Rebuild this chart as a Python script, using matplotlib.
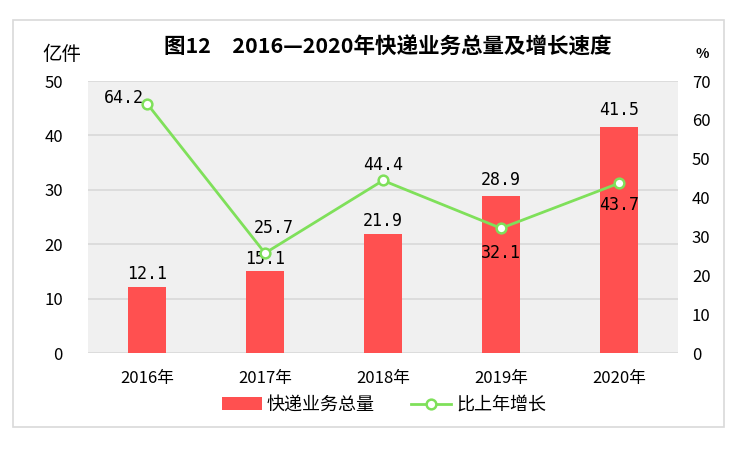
import matplotlib
matplotlib.use("Agg")
import matplotlib.pyplot as plt
from matplotlib.patches import Rectangle
import numpy as np

plt.rcParams['font.family'] = ['Noto Sans CJK SC', 'DejaVu Sans']

years = ["2016年", "2017年", "2018年", "2019年", "2020年"]
volume = [12.1, 15.1, 21.9, 28.9, 41.5]
growth = [64.2, 25.7, 44.4, 32.1, 43.7]
left_ticks = [0, 10, 20, 30, 40, 50]
right_ticks = [0, 10, 20, 30, 40, 50, 60, 70]

bar_color = "#FF5050"
line_color = "#7FE05A"

fig = plt.figure(figsize=(7.5, 4.49), dpi=100)
fig.patches.append(Rectangle((13/750, 1-427/449), 711/750, 407/449, transform=fig.transFigure,
                             fill=False, edgecolor="#d9d9d9", linewidth=1.2))

ax = fig.add_axes([88/750, 1-353/449, 590/750, 272/449])
ax.set_facecolor("#F0F0F0")
x = np.arange(len(years))
bars = ax.bar(x, volume, width=0.32, color=bar_color, zorder=2, label="快递业务总量")
ax.set_ylim(0, 50)
ax.set_xlim(-0.5, 4.5)
ax.set_yticks(left_ticks)
ax.yaxis.grid(True, color="#d9d9d9", linewidth=1.2, zorder=0)
ax.set_axisbelow(True)
for s in ax.spines.values():
    s.set_visible(False)
ax.tick_params(axis='both', length=0, labelsize=12)
ax.tick_params(axis='y', pad=18)
ax.set_xticks(x)
ax.set_xticklabels(years, fontsize=12)
ax.tick_params(axis='x', pad=12)

mono = ['DejaVu Sans Mono']
bar_offsets = [3, 2, 3, 5, 6]
for xi, v, dy in zip(x, volume, bar_offsets):
    ax.annotate(f"{v}", (xi, v), xytext=(0, dy), textcoords="offset points",
                ha="center", va="bottom", fontsize=12, family=mono, zorder=3)

ax2 = ax.twinx()
ax2.set_ylim(0, 70)
ax2.set_yticks(right_ticks)
for s in ax2.spines.values():
    s.set_visible(False)
ax2.tick_params(axis='y', length=0, labelsize=12, pad=10)
line, = ax2.plot(x, growth, color=line_color, linewidth=2, marker='o', markersize=7,
                 markerfacecolor="white", markeredgecolor=line_color, markeredgewidth=1.8,
                 zorder=4, label="比上年增长")

offsets = [(-17, 4), (6, 18), (0, 11), (0, -18), (0, -16)]
for xi, v, (dx, dy) in zip(x, growth, offsets):
    ax2.annotate(f"{v}", (xi, v), xytext=(dx, dy), textcoords="offset points",
                 ha="center", va="center", fontsize=12, family=mono, zorder=6)

fig.text(388/750, 1-47/449, "图12　2016—2020年快递业务总量及增长速度", ha="center", va="center",
         fontsize=15.5, fontweight="bold")
fig.text(62/750, 1-55/449, "亿件", ha="center", va="center", fontsize=14)
fig.text(702/750, 1-54/449, "%", ha="center", va="center", fontsize=10, fontweight="bold")

handles = [bars, line]
fig.legend(handles, ["快递业务总量", "比上年增长"], loc="center", bbox_to_anchor=(384/750, 1-405/449),
           ncol=2, frameon=False, fontsize=13, handlelength=2.2, columnspacing=2.0, handletextpad=0.3)

fig.savefig("out.png", dpi=100)
